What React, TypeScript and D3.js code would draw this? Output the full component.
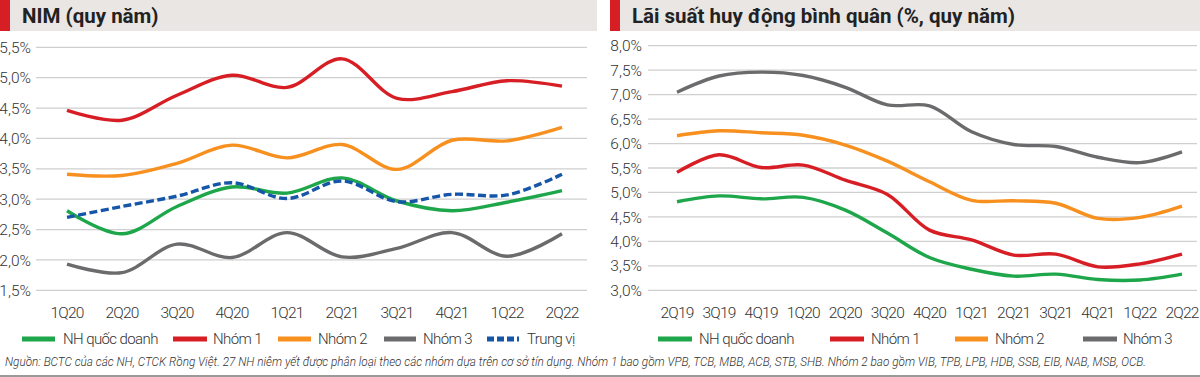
import React from "react";
import * as d3 from "d3";

// ---- Left chart: NIM (quy năm)
const nimQuarters = ["1Q20", "2Q20", "3Q20", "4Q20", "1Q21", "2Q21", "3Q21", "4Q21", "1Q22", "2Q22"];
const nimState = [2.81, 2.43, 2.88, 3.2, 3.1, 3.35, 2.97, 2.81, 2.95, 3.14];
const nimGroup1 = [4.46, 4.3, 4.71, 5.04, 4.84, 5.31, 4.66, 4.77, 4.95, 4.86];
const nimGroup2 = [3.41, 3.39, 3.59, 3.89, 3.68, 3.9, 3.49, 3.97, 3.96, 4.18];
const nimGroup3 = [1.93, 1.79, 2.26, 2.04, 2.45, 2.05, 2.19, 2.45, 2.06, 2.43];
const nimMedian = [2.7, 2.88, 3.05, 3.27, 3.01, 3.3, 2.96, 3.08, 3.07, 3.41];
const nimTicks = [1.5, 2.0, 2.5, 3.0, 3.5, 4.0, 4.5, 5.0, 5.5];

// ---- Right chart: Lãi suất huy động bình quân
const depQuarters = ["2Q19", "3Q19", "4Q19", "1Q20", "2Q20", "3Q20", "4Q20", "1Q21", "2Q21", "3Q21", "4Q21", "1Q22", "2Q22"];
const depState = [4.81, 4.93, 4.87, 4.9, 4.64, 4.17, 3.67, 3.43, 3.29, 3.33, 3.22, 3.21, 3.33];
const depGroup1 = [5.41, 5.77, 5.51, 5.56, 5.25, 4.96, 4.23, 4.03, 3.72, 3.74, 3.48, 3.54, 3.74];
const depGroup2 = [6.16, 6.26, 6.22, 6.17, 5.97, 5.64, 5.22, 4.84, 4.83, 4.78, 4.47, 4.49, 4.72];
const depGroup3 = [7.05, 7.38, 7.46, 7.39, 7.15, 6.79, 6.77, 6.24, 5.98, 5.94, 5.72, 5.61, 5.83];
const depTicks = [3.0, 3.5, 4.0, 4.5, 5.0, 5.5, 6.0, 6.5, 7.0, 7.5, 8.0];

const seriesNames = ["NH quốc doanh", "Nhóm 1", "Nhóm 2", "Nhóm 3", "Trung vị"];
const titleLeft = "NIM (quy năm)";
const titleRight = "Lãi suất huy động bình quân (%, quy năm)";
const footnote =
  "Nguồn: BCTC của các NH, CTCK Rồng Việt. 27 NH niêm yết được phân loại theo các nhóm dựa trên cơ sở tín dụng. Nhóm 1 bao gồm VPB, TCB, MBB, ACB, STB, SHB. Nhóm 2 bao gồm VIB, TPB, LPB, HDB, SSB, EIB, NAB, MSB, OCB.";

const COLORS = {
  green: "#1ea64b",
  red: "#d81e25",
  orange: "#f7901e",
  gray: "#6b6b6d",
  blue: "#1556a8",
};
const FONT = "Roboto, 'Noto Sans', sans-serif";
const TXT = "#333";

const fmtPct = (v: number) => d3.format(".1f")(v).replace(".", ",") + "%";

type Series = { name: string; values: number[]; color: string; dashed?: boolean };

function Panel(props: {
  cats: string[];
  series: Series[];
  ticks: number[];
  xRange: [number, number];
  yDomain: [number, number];
  yRange: [number, number];
  gridX: [number, number];
  labelRight: number;
  headerX: [number, number];
  title: string;
  legend: { sx1: number; sx2: number; tx: number }[];
}) {
  const x = d3.scalePoint<string>().domain(props.cats).range(props.xRange);
  const y = d3.scaleLinear().domain(props.yDomain).range(props.yRange);
  const line = d3
    .line<number>()
    .x((_, i) => x(props.cats[i]) as number)
    .y((d) => y(d))
    .curve(d3.curveCatmullRom.alpha(0.5));
  return (
    <g>
      <rect x={props.headerX[0]} y={0} width={props.headerX[1] - props.headerX[0]} height={31} fill="#e9e6e4" />
      <rect x={props.headerX[0]} y={0} width={10} height={31} fill="#d81e25" />
      <text x={props.headerX[0] + 22} y={23} fontFamily={FONT} fontWeight={700} fontSize={20.5} fill="#222">
        {props.title}
      </text>
      {props.ticks.map((t) => (
        <g key={t}>
          <line x1={props.gridX[0]} x2={props.gridX[1]} y1={y(t)} y2={y(t)} stroke="#cfcfcf" strokeWidth={1.3} />
          <text
            x={props.labelRight}
            y={y(t)}
            dy="0.36em"
            textAnchor="end"
            fontFamily={FONT}
            fontWeight={300}
            fontSize={15.5}
            fill={TXT}
          >
            {fmtPct(t)}
          </text>
        </g>
      ))}
      {props.cats.map((c) => (
        <text
          key={c}
          x={x(c)}
          y={318}
          textAnchor="middle"
          fontFamily={FONT}
          fontWeight={300}
          fontSize={15.5}
          fill={TXT}
          letterSpacing={-0.8}
        >
          {c}
        </text>
      ))}
      {props.series.map((s) => (
        <path
          key={s.name}
          d={line(s.values) || ""}
          fill="none"
          stroke={s.color}
          strokeWidth={3.4}
          strokeDasharray={s.dashed ? "8,3.5" : undefined}
          strokeLinecap="butt"
        />
      ))}
      {props.series.map((s, i) => {
        const l = props.legend[i];
        return (
          <g key={"lg" + s.name}>
            <line
              x1={l.sx1}
              x2={l.sx2}
              y1={339}
              y2={339}
              stroke={s.color}
              strokeWidth={5}
              strokeDasharray={s.dashed ? "7,3" : undefined}
            />
            <text
              x={l.tx}
              y={339}
              dy="0.36em"
              fontFamily={FONT}
              fontWeight={300}
              fontSize={15}
              fill={TXT}
              letterSpacing={-0.6}
            >
              {s.name}
            </text>
          </g>
        );
      })}
    </g>
  );
}

export default function App() {
  const leftSeries: Series[] = [
    { name: seriesNames[0], values: nimState, color: COLORS.green },
    { name: seriesNames[1], values: nimGroup1, color: COLORS.red },
    { name: seriesNames[2], values: nimGroup2, color: COLORS.orange },
    { name: seriesNames[3], values: nimGroup3, color: COLORS.gray },
    { name: seriesNames[4], values: nimMedian, color: COLORS.blue, dashed: true },
  ];
  const rightSeries: Series[] = [
    { name: seriesNames[0], values: depState, color: COLORS.green },
    { name: seriesNames[1], values: depGroup1, color: COLORS.red },
    { name: seriesNames[2], values: depGroup2, color: COLORS.orange },
    { name: seriesNames[3], values: depGroup3, color: COLORS.gray },
  ];
  return (
    <svg width={1200} height={377} style={{ position: "absolute", left: 0, top: 0, background: "#fff" }}>
      <rect x={0} y={0} width={1200} height={377} fill="#fff" />
      <Panel
        cats={nimQuarters}
        series={leftSeries}
        ticks={nimTicks}
        xRange={[67, 562]}
        yDomain={[1.5, 5.5]}
        yRange={[290.3, 47.3]}
        gridX={[36, 587]}
        labelRight={31}
        headerX={[0, 597]}
        title={titleLeft}
        legend={[
          { sx1: 22, sx2: 55, tx: 63 },
          { sx1: 173, sx2: 207, tx: 213 },
          { sx1: 278, sx2: 311, tx: 318 },
          { sx1: 384, sx2: 416, tx: 423 },
          { sx1: 487, sx2: 519, tx: 527 },
        ]}
      />
      <Panel
        cats={depQuarters}
        series={rightSeries}
        ticks={depTicks}
        xRange={[677, 1182]}
        yDomain={[3, 8]}
        yRange={[290.3, 45.7]}
        gridX={[648, 1197]}
        labelRight={642}
        headerX={[610, 1200]}
        title={titleRight}
        legend={[
          { sx1: 658, sx2: 692, tx: 699 },
          { sx1: 830, sx2: 864, tx: 871 },
          { sx1: 955, sx2: 988, tx: 995 },
          { sx1: 1083, sx2: 1117, tx: 1123 },
        ]}
      />
      <text
        x={5}
        y={366}
        fontFamily={FONT}
        fontStyle="italic"
        fontWeight={300}
        fontSize={12}
        fill={TXT}
        textLength={1141}
        lengthAdjust="spacingAndGlyphs"
      >
        {footnote}
      </text>
      <rect x={0} y={375} width={1200} height={2} fill="#9a9a9a" />
    </svg>
  );
}
